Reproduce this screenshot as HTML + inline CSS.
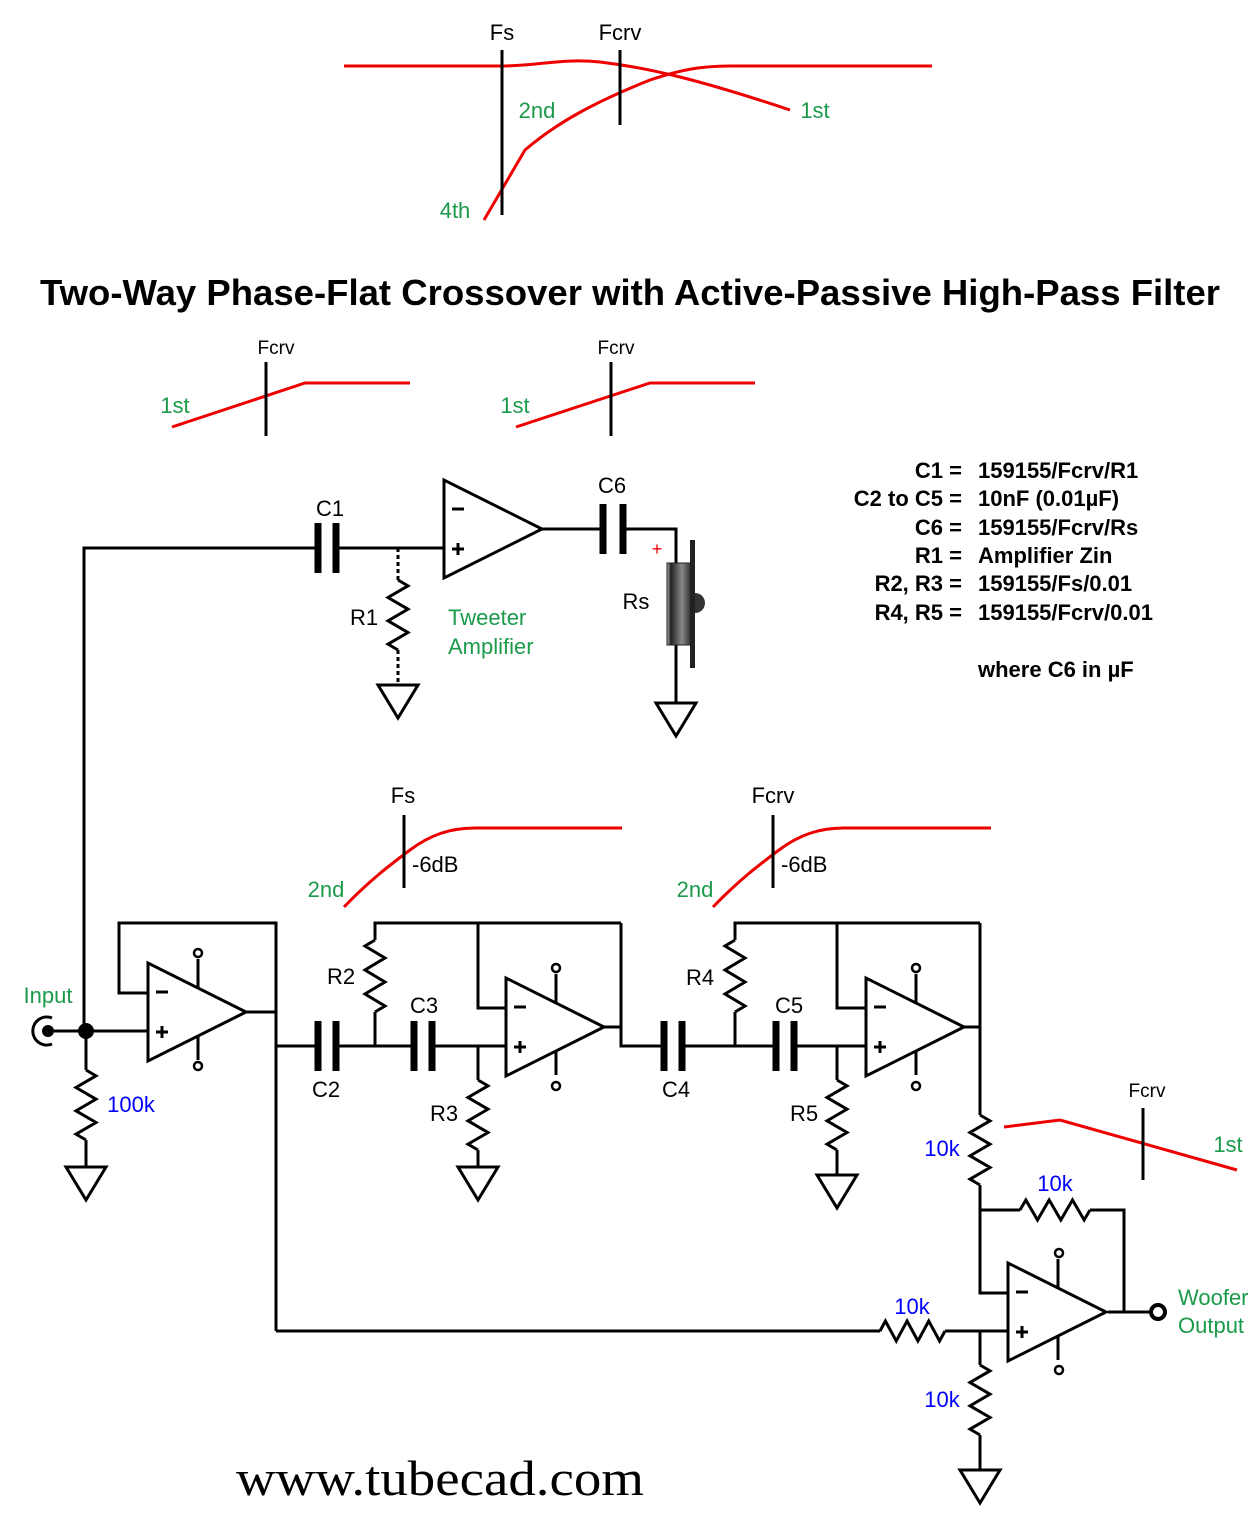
<!DOCTYPE html>
<html><head><meta charset="utf-8"><style>body{margin:0;background:#fff}svg{display:block}text{font-family:"Liberation Sans",sans-serif}</style></head><body>
<svg id="s" width="1259" height="1516" viewBox="0 0 1259 1516" xmlns="http://www.w3.org/2000/svg">
<defs><linearGradient id="spk" x1="0" x2="1"><stop offset="0" stop-color="#bbb"/><stop offset="0.15" stop-color="#222"/><stop offset="0.6" stop-color="#888"/><stop offset="1" stop-color="#222"/></linearGradient></defs>
<g id="g" fill="none" stroke="#000" stroke-width="3"></g>
<g fill="none" stroke="#e00" stroke-width="3">
<path d="M344 66 H500 C540 66 560 58 600 62 C650 68 700 80 790 110"/>
<path d="M484 220 L525 150 C560 120 600 100 650 80 C680 70 700 66 730 66 H932"/>
<path d="M172 427 L305 383 H410"/><path d="M516 427 L650 383 H755"/>
<path d="M344 907 C370 880 390 865 410 850 C430 835 450 828 475 828 H622"/>
<path d="M713 907 C739 880 759 865 779 850 C799 835 819 828 844 828 H991"/>
<path d="M1004 1127 L1060 1120 L1237 1170"/>
</g>
<g stroke="#000" stroke-width="3"><path d="M502 50V215M620 50V125M266 362V436M611 362V436M404 815V888M773 815V888M1143 1108V1180"/></g>
<g stroke="#000" stroke-width="3" stroke-dasharray="4 3"><path d="M398 548 V580 M398 650 V685"/></g>
<g font-size="22" fill="#000">
<text x="502" y="40" text-anchor="middle">Fs</text><text x="620" y="40" text-anchor="middle">Fcrv</text>
<text x="276" y="354" text-anchor="middle" font-size="19">Fcrv</text><text x="616" y="354" text-anchor="middle" font-size="19">Fcrv</text>
<text x="403" y="803" text-anchor="middle">Fs</text><text x="773" y="803" text-anchor="middle">Fcrv</text>
<text x="1147" y="1097" text-anchor="middle" font-size="19">Fcrv</text>
<text x="330" y="516" text-anchor="middle">C1</text><text x="612" y="493" text-anchor="middle">C6</text>
<text x="364" y="625" text-anchor="middle">R1</text><text x="636" y="609" text-anchor="middle">Rs</text>
<text x="341" y="984" text-anchor="middle">R2</text><text x="424" y="1013" text-anchor="middle">C3</text>
<text x="326" y="1097" text-anchor="middle">C2</text><text x="444" y="1121" text-anchor="middle">R3</text>
<text x="700" y="985" text-anchor="middle">R4</text><text x="789" y="1013" text-anchor="middle">C5</text>
<text x="676" y="1097" text-anchor="middle">C4</text><text x="804" y="1121" text-anchor="middle">R5</text>
<text x="412" y="872">-6dB</text><text x="781" y="872">-6dB</text>
</g>
<g font-size="22" fill="#1a9a4a">
<text x="537" y="118" text-anchor="middle">2nd</text><text x="815" y="118" text-anchor="middle">1st</text><text x="455" y="218" text-anchor="middle">4th</text>
<text x="175" y="413" text-anchor="middle">1st</text><text x="515" y="413" text-anchor="middle">1st</text>
<text x="326" y="897" text-anchor="middle">2nd</text><text x="695" y="897" text-anchor="middle">2nd</text>
<text x="1228" y="1152" text-anchor="middle">1st</text>
<text x="448" y="625">Tweeter</text><text x="448" y="654">Amplifier</text>
<text x="48" y="1003" text-anchor="middle">Input</text>
<text x="1178" y="1305">Woofer</text><text x="1178" y="1333">Output</text>
</g>
<g font-size="22" fill="#00f">
<text x="131" y="1112" text-anchor="middle">100k</text><text x="942" y="1156" text-anchor="middle">10k</text>
<text x="1055" y="1191" text-anchor="middle">10k</text><text x="912" y="1314" text-anchor="middle">10k</text><text x="942" y="1407" text-anchor="middle">10k</text>
</g>
<text x="657" y="555" fill="#e00" font-size="18" text-anchor="middle">+</text>
<text x="630" y="305" text-anchor="middle" font-size="36" font-weight="bold" textLength="1180" lengthAdjust="spacingAndGlyphs">Two-Way Phase-Flat Crossover with Active-Passive High-Pass Filter</text>
<g font-size="22" font-weight="bold">
<g text-anchor="end"><text x="962" y="478">C1 =</text><text x="962" y="506">C2 to C5 =</text><text x="962" y="535">C6 =</text><text x="962" y="563">R1 =</text><text x="962" y="591">R2, R3 =</text><text x="962" y="620">R4, R5 =</text></g>
<text x="978" y="478">159155/Fcrv/R1</text><text x="978" y="506">10nF (0.01µF)</text><text x="978" y="535">159155/Fcrv/Rs</text><text x="978" y="563">Amplifier Zin</text><text x="978" y="591">159155/Fs/0.01</text><text x="978" y="620">159155/Fcrv/0.01</text>
<text x="978" y="677">where C6 in µF</text>
</g>
<text x="440" y="1495" text-anchor="middle" style="font-family:'Liberation Serif',serif" font-size="50" textLength="408" lengthAdjust="spacingAndGlyphs">www.tubecad.com</text>
<rect x="667" y="563" width="25" height="82" fill="url(#spk)" stroke="#222"/>
<rect x="690" y="540" width="5" height="128" fill="#222"/>
<path d="M695 593 A10 10 0 0 1 695 613Z" fill="#333"/>
<circle cx="86" cy="1031" r="8" fill="#000"/>
<circle cx="48" cy="1031" r="6" fill="#000"/>
<path d="M52 1018 A14 14 0 1 0 52 1044" fill="none" stroke="#000" stroke-width="3"/>
<circle cx="1158" cy="1312" r="7" fill="#fff" stroke="#000" stroke-width="4"/>
</svg>
<script>
var g=document.getElementById('g'),d='';
function P(s){d+=s+' ';}
function rv(x,y0,y1){var n=6,h=(y1-y0)/n,s='M'+x+' '+y0;for(var i=0;i<n;i++){s+=' L'+(x+(i%2?-10:10))+' '+(y0+h*(i+0.5));}s+=' L'+x+' '+y1;P(s);}
function rh(y,x0,x1){var n=6,h=(x1-x0)/n,s='M'+x0+' '+y;for(var i=0;i<n;i++){s+=' L'+(x0+h*(i+0.5))+' '+(y+(i%2?10:-10));}s+=' L'+x1+' '+y;P(s);}
function gnd(x,y){P('M'+(x-20)+' '+y+' H'+(x+20)+' L'+x+' '+(y+33)+' Z');}
function oa(x,y,pins){P('M'+x+' '+(y-49)+' V'+(y+49)+' L'+(x+98)+' '+y+' Z');P('M'+(x+8)+' '+(y-20)+' h12');P('M'+(x+8)+' '+(y+20)+' h12 M'+(x+14)+' '+(y+14)+' v12');
 if(pins){P('M'+(x+50)+' '+(y-25)+' V'+(y-53));P('M'+(x+50)+' '+(y+25)+' V'+(y+48));}}
function cap(x,y,a){var e=document.createElementNS('http://www.w3.org/2000/svg','path');e.setAttribute('d','M'+x+' '+(y-25)+' v50 M'+(x+a)+' '+(y-25)+' v50');e.setAttribute('stroke-width','7');g.appendChild(e);}
function circ(x,y){var e=document.createElementNS('http://www.w3.org/2000/svg','circle');e.setAttribute('cx',x);e.setAttribute('cy',y);e.setAttribute('r',4);e.setAttribute('fill','#fff');e.setAttribute('stroke-width','2.5');g.appendChild(e);}
P('M84 1031 V548 H318 M336 548 H444 M542 529 H603 M623 529 H676 V563 M676 645 V703');
cap(318,548,18);cap(603,529,20);
rv(398,580,650);gnd(398,685);gnd(676,703);
oa(444,529,false);
P('M54 1031 H148 M148 993 H119 V923 H276 V1331 M246 1012 H276');
oa(148,1012,true);circ(198,953);circ(198,1066);
P('M86 1031 V1070');rv(86,1070,1140);P('M86 1140 V1167');gnd(86,1167);
P('M276 1046 H318 M336 1046 H414 M432 1046 H506');cap(318,1046,18);cap(414,1046,18);
P('M375 1046 V1012');rv(375,1012,940);P('M375 940 V923 H621 M478 923 V1008 H506');
P('M478 1046 V1080');rv(478,1080,1150);P('M478 1150 V1167');gnd(478,1167);
oa(506,1027,true);circ(556,968);circ(556,1086);
P('M604 1027 H621 M621 923 V1046 H664 M682 1046 H776 M794 1046 H866');cap(664,1046,18);cap(776,1046,18);
P('M735 1046 V1012');rv(735,1012,940);P('M735 940 V923 H980 M837 923 V1008 H866');
P('M837 1046 V1080');rv(837,1080,1150);P('M837 1150 V1175');gnd(837,1175);
oa(866,1027,true);circ(916,968);circ(916,1086);
P('M964 1027 H980 M980 923 V1115');rv(980,1115,1185);P('M980 1185 V1293 H1008 M980 1210 H1020');rh(1210,1020,1090);P('M1090 1210 H1124 V1312 M1108 1312 H1151');
P('M276 1331 H880');rh(1331,880,945);P('M945 1331 H1008 M980 1331 V1365');rv(980,1365,1435);P('M980 1435 V1470');gnd(980,1470);
oa(1008,1312,true);circ(1059,1253);circ(1059,1370);
var e=document.createElementNS('http://www.w3.org/2000/svg','path');e.setAttribute('d',d);g.insertBefore(e,g.firstChild);
</script>
</body></html>
